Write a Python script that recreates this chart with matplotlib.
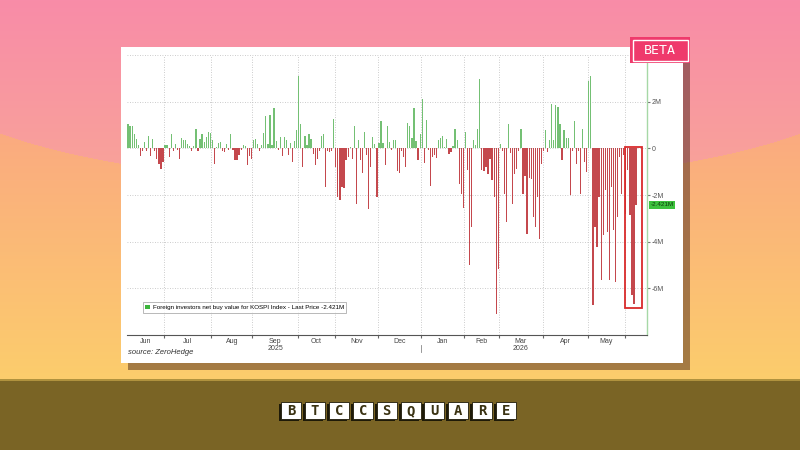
import numpy as np
import matplotlib
matplotlib.use("Agg")
import matplotlib.pyplot as plt
from matplotlib.patches import Rectangle, Patch
from matplotlib.transforms import blended_transform_factory

plt.rcParams['font.family'] = ['Liberation Sans', 'DejaVu Sans']

# net buy value (M) per trading day, one list per month
jun25 = [1.03, 0.94, 0.94, 0.6, 0.41, 0.13, -0.34, -0.1, 0.26, -0.1, 0.51, -0.34,
         0.4, -0.1, -0.44, -0.66, -0.87, -0.58]
jul25 = [0.16, 0.16, -0.37, 0.63, -0.1, 0.2, -0.05, -0.44, 0.44, 0.34, 0.36, 0.2,
         0.08, -0.1, 0.1, 0.84, -0.1, 0.41, 0.63, 0.27, 0.49, 0.7, 0.66]
aug25 = [0.34, -0.66, 0.05, 0.23, 0.26, -0.1, -0.16, 0.17, -0.05, 0.6, -0.09, -0.49,
         -0.49, -0.27, -0.05, 0.13, 0.1, -0.7, -0.31, -0.46]
sep25 = [0.37, 0.41, 0.2, -0.1, 0.15, 0.66, 1.37, 0.2, 1.44, 0.15, 1.74, 0.3,
         -0.05, 0.5, -0.34, 0.49, 0.34, -0.3, 0.23, -0.59, 0.3, 0.8]
oct25 = [3.1, 1.03, -0.8, 0.51, 0.13, 0.63, 0.41, -0.23, -0.73, -0.44, -0.1, 0.51,
         0.63, -1.66, -0.1, -0.15, -0.1, 1.27]
nov25 = [-0.8, -2.1, -2.2, -1.65, -1.7, -0.5, -0.37, 0.06, -0.44, 0.94, -2.37, 0.34,
         -0.5, -1.06, 0.7, -0.3, -2.6, -0.8, 0.49, 0.2, -2.1]
dec25 = [0.25, 1.17, 0.23, -0.73, 0.94, 0.27, -0.09, 0.34, 0.34, -0.97, -1.06, -0.1,
         -0.37, -0.8, 1.09, 0.94, 0.46, 1.74, 0.31, -0.51, 0.63]
jan26 = [2.13, -0.63, 1.23, -0.09, -1.63, -0.37, -0.3, -0.4, 0.34, 0.44, 0.51, 0.06,
         0.4, -0.26, -0.15, 0.1, 0.81, 0.37, -1.51, -1.97, -2.54]
feb26 = [0.7, -0.94, -5.0, -3.37, 0.35, 0.13, 0.84, 2.99, -0.94, -0.97, -0.8, -1.1,
         -0.44, -1.37, -2.1, -7.09, -5.16]
mar26 = [0.2, -0.1, -1.94, -3.16, 1.03, -0.2, -2.37, -1.09, -0.87, -0.1, 0.84, -1.94,
         -1.2, -3.66, -1.25, -1.3, -2.94, -3.37, -2.09, -3.87, -0.66]
apr26 = [-0.1, 0.77, -0.15, 0.35, 1.91, 0.34, 1.84, 1.77, 1.06, -0.49, 0.77, 0.46,
         0.46, -2.01, -0.1, 1.16, -0.69, -0.1, -1.97, 0.83, -0.59, -1.01]
may26 = [2.89, 3.09, -6.73, -3.37, -4.23, -2.09, -5.63, -3.73, -1.8, -3.59, -5.66,
         -1.66, -3.51, -5.73, -2.94, -0.37, -1.94, -0.3]
jun26 = [-2.8, -0.94, -2.87, -6.3, -6.66, -2.42]

months = [jun25, jul25, aug25, sep25, oct25, nov25, dec25, jan26, feb26, mar26, apr26, may26, jun26]
month_labels = ['Jun', 'Jul', 'Aug', 'Sep', 'Oct', 'Nov', 'Dec', 'Jan', 'Feb', 'Mar', 'Apr', 'May', '']
last_price = -2.421
yticks = [-6, -4, -2, 0, 2, 4]
ytick_labels = ['-6M', '-4M', '-2M', '0', '2M', '']   # 4M label sits under the BETA badge

vals = np.concatenate([np.array(m) for m in months])
x = np.arange(len(vals))
counts = np.array([len(m) for m in months])
starts = np.concatenate([[0], np.cumsum(counts)[:-1]])

GREEN = '#74c074'
RED = '#c4484d'

fig = plt.figure(figsize=(8, 4.5), dpi=100)

# ---- background ----
H, W = 450, 800
yy, xx = np.mgrid[0:H, 0:W]
pink = (((xx - 400) / 480.0) ** 2 + ((yy - 69) / 116.0) ** 2 <= 1) | (yy < 69)
top0 = np.array([248, 140, 168]) / 255
top1 = np.array([249, 164, 152]) / 255
bot0 = np.array([250, 170, 128]) / 255
bot1 = np.array([252, 205, 108]) / 255
t1 = np.clip(yy / 185.0, 0, 1)[..., None]
t2 = np.clip((yy - 130) / 250.0, 0, 1)[..., None]
img = np.where(pink[..., None], top0 * (1 - t1) + top1 * t1, bot0 * (1 - t2) + bot1 * t2)
img[380:, :] = np.array([122, 100, 37]) / 255
img[379:381, :] = np.array([176, 146, 62]) / 255

bg = fig.add_axes([0, 0, 1, 1])
bg.imshow(img, extent=(0, W, H, 0), aspect='auto', interpolation='bilinear')
bg.set_xlim(0, W)
bg.set_ylim(H, 0)
bg.axis('off')
bg.add_patch(Rectangle((128, 54), 562, 316, color='#3a1a10', alpha=0.45, lw=0))
bg.add_patch(Rectangle((121, 47), 562, 316, color='white', lw=0))

# ---- chart ----
ax = fig.add_axes([127 / 800, 1 - 335 / 450, 520 / 800, 280 / 450])
ax.set_facecolor('none')
ax.bar(x, vals, width=0.6, color=[GREEN if v >= 0 else RED for v in vals], linewidth=0, zorder=3)
ax.set_xlim(-0.5, 252.3)
ax.set_ylim(-8, 4)

ax.yaxis.tick_right()
ax.set_yticks(yticks)
ax.set_yticklabels(ytick_labels)
ax.tick_params(axis='y', labelsize=5, colors='#777777', length=2, pad=1.5)
ax.tick_params(axis='y', labelcolor='#555555')

ax.set_xticks(starts[1:] - 0.5)
ax.set_xticklabels([])
ax.set_xticks(starts[:-1] + (counts[:-1] - 1) / 2, minor=True)
ax.set_xticklabels(month_labels[:-1], minor=True)
ax.tick_params(axis='x', which='major', length=2, color='#666666')
ax.tick_params(axis='x', which='minor', length=0, labelsize=5, labelcolor='#444444', pad=2)

ax.grid(which='major', linestyle=(0, (1, 2)), color='#bbbbbb', linewidth=0.6, zorder=0)
for s in ['left', 'top']:
    ax.spines[s].set_visible(False)
ax.spines['right'].set_color('#a6d8a6')
ax.spines['right'].set_linewidth(1.0)
ax.spines['bottom'].set_color('#555555')
ax.spines['bottom'].set_linewidth(0.8)

# year labels and separator
tr = blended_transform_factory(ax.transData, ax.transAxes)
ax.text(starts[3] + (counts[3] - 1) / 2, -0.047, '2025', transform=tr, ha='center', va='center',
        fontsize=5, color='#444444')
ax.text(starts[9] + (counts[9] - 1) / 2, -0.047, '2026', transform=tr, ha='center', va='center',
        fontsize=5, color='#444444')
ax.plot([starts[7] - 0.5] * 2, [-0.035, -0.06], transform=tr, color='#888888', lw=0.6, clip_on=False)

# last price tag
ax.annotate(f'{last_price:.3f}M', xy=(1.0, last_price), xycoords=('axes fraction', 'data'),
            xytext=(2.5, 0), textcoords='offset points', fontsize=4.5, va='center', ha='left',
            color='#0d3d0d', bbox=dict(boxstyle='square,pad=0.2', fc='#3cc23c', ec='none'))

# highlight box around last days
n = len(vals)
ax.add_patch(Rectangle((n - 6 - 0.6, -6.85), 8.4, 6.9, fill=False, ec='#d92b2b', lw=1.3, zorder=4))

leg = ax.legend([Patch(fc='#3db53d', ec='none')],
                [f'Foreign investors net buy value for KOSPI Index - Last Price {last_price:.3f}M'],
                loc='lower left', bbox_to_anchor=(0.03, 0.08), fontsize=4.5, frameon=True,
                fancybox=False, edgecolor='#999999', handlelength=0.8, handleheight=0.8,
                borderpad=0.4, handletextpad=0.4, borderaxespad=0)
leg.get_frame().set_linewidth(0.6)

# ---- foreground decorations ----
fg = fig.add_axes([0, 0, 1, 1])
fg.set_facecolor('none')
fg.set_xlim(0, W)
fg.set_ylim(H, 0)
fg.axis('off')

fg.text(128, 352, 'source: ZeroHedge', fontsize=5.5, style='italic', color='#333333',
        ha='left', va='center')

fg.add_patch(Rectangle((630, 37), 60, 26, fc='#ef3a6c', ec='none'))
fg.add_patch(Rectangle((632.5, 39.5), 55, 21, fill=False, ec='white', lw=1))
fg.text(660, 50.5, 'BETA', color='white', fontsize=9.5, family='DejaVu Sans Mono',
        ha='center', va='center')

for i, ch in enumerate('BTCCSQUARE'):
    x0 = 281 + i * 23.9
    fg.add_patch(Rectangle((x0 - 2, 404), 20, 17, fc='#1e1a08', ec='none'))
    fg.add_patch(Rectangle((x0, 402), 20, 17, fc='white', ec='#1e1a08', lw=0.6))
    fg.text(x0 + 10, 410.8, ch, color='#3a3212', fontsize=10, family='DejaVu Sans Mono',
            weight='bold', ha='center', va='center')

fig.savefig('out.png', dpi=100)
